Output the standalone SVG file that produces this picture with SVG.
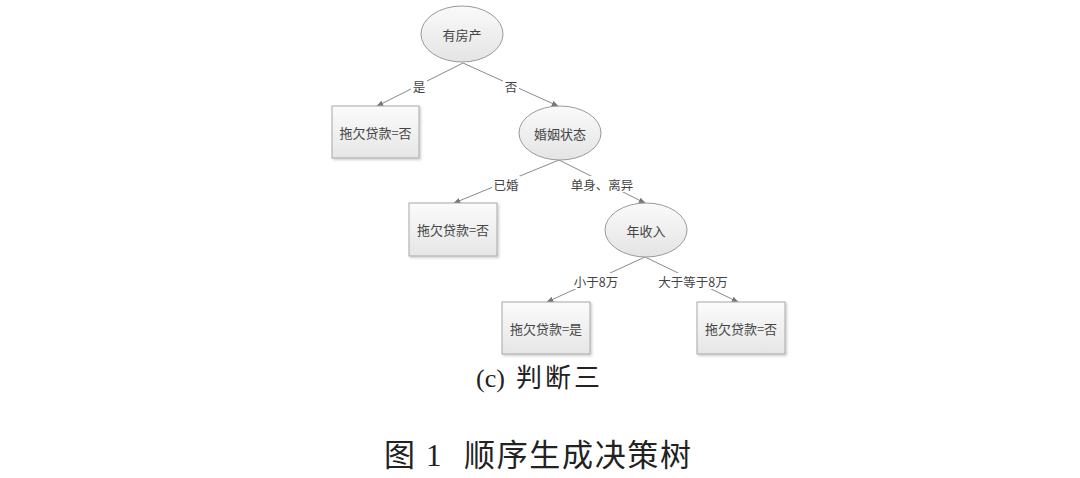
<svg xmlns="http://www.w3.org/2000/svg" width="1080" height="478" viewBox="0 0 1080 478">
<defs>
<linearGradient id="eg" x1="0" y1="0" x2="0" y2="1">
<stop offset="0" stop-color="#fafafa"/><stop offset="1" stop-color="#e4e4e4"/>
</linearGradient>
<linearGradient id="bg" x1="0" y1="0" x2="0" y2="1">
<stop offset="0" stop-color="#fbfbfb"/><stop offset="1" stop-color="#e6e6e6"/>
</linearGradient>
<marker id="ah" viewBox="0 0 10 10" refX="9" refY="5" markerWidth="7" markerHeight="7" orient="auto" markerUnits="userSpaceOnUse">
<path d="M0,1 L10,5 L0,9 Z" fill="#777"/>
</marker>
<filter id="sh" x="-10%" y="-10%" width="125%" height="130%">
<feDropShadow dx="1.5" dy="1.5" stdDeviation="1" flood-color="#000" flood-opacity="0.2"/>
</filter>
</defs>
<style>
.ell{fill:url(#eg);stroke:#9a9a9a;stroke-width:1}
.box{fill:url(#bg);stroke:#a8a8a8;stroke-width:1;filter:url(#sh)}
.t{font-family:"Noto Sans CJK SC","Liberation Sans",sans-serif;font-size:13px;fill:#444;text-anchor:middle;dominant-baseline:central}
.e{stroke:#8a8a8a;stroke-width:1;fill:none;marker-end:url(#ah)}
.lb{font-family:"Noto Sans CJK SC","Liberation Sans",sans-serif;font-size:12.5px;fill:#444;text-anchor:middle;dominant-baseline:central}
.cap{font-family:"Liberation Serif","Noto Sans CJK SC",serif;fill:#222}
</style>
<rect width="1080" height="478" fill="#fff"/>
<g id="connectors">
<line class="e" x1="463" y1="63" x2="377" y2="106"/>
<line class="e" x1="463" y1="63" x2="558" y2="106"/>
<line class="e" x1="559" y1="160" x2="454" y2="203"/>
<line class="e" x1="559" y1="160" x2="645" y2="203"/>
<line class="e" x1="645" y1="257" x2="547" y2="302"/>
<line class="e" x1="645" y1="257" x2="738" y2="302"/>
<rect x="411" y="78" width="16" height="16" fill="#fff"/>
<text class="lb" x="419" y="86">是</text>
<rect x="503" y="78" width="16" height="16" fill="#fff"/>
<text class="lb" x="511" y="86">否</text>
<rect x="492" y="176" width="28" height="16" fill="#fff"/>
<text class="lb" x="506" y="184">已婚</text>
<rect x="571" y="176" width="62" height="16" fill="#fff"/>
<text class="lb" x="602" y="184">单身、离异</text>
<rect x="573" y="273" width="46" height="16" fill="#fff"/>
<text class="lb" x="596" y="281">小于8万</text>
<rect x="658" y="273" width="70" height="16" fill="#fff"/>
<text class="lb" x="693" y="281">大于等于8万</text>
</g>
<g id="n1"><ellipse class="ell" cx="462" cy="34" rx="41" ry="28"/><text class="t" x="462" y="34">有房产</text></g>
<g id="n2"><rect class="box" x="332" y="106" width="87" height="52"/><text class="t" x="375.5" y="132">拖欠贷款=否</text></g>
<g id="n3"><ellipse class="ell" cx="560" cy="133" rx="41" ry="27"/><text class="t" x="560" y="133">婚姻状态</text></g>
<g id="n4"><rect class="box" x="409" y="203" width="88" height="53"/><text class="t" x="453" y="229.5">拖欠贷款=否</text></g>
<g id="n5"><ellipse class="ell" cx="646" cy="230" rx="41" ry="27"/><text class="t" x="646" y="230">年收入</text></g>
<g id="n6"><rect class="box" x="502" y="302" width="88" height="52"/><text class="t" x="546" y="328">拖欠贷款=是</text></g>
<g id="n7"><rect class="box" x="697" y="302" width="88" height="52"/><text class="t" x="741" y="328">拖欠贷款=否</text></g>
<text class="cap" font-size="26" y="387"><tspan x="476">(c)</tspan><tspan x="516" textLength="84" lengthAdjust="spacing">判断三</tspan></text>
<text class="cap" font-size="31" y="466"><tspan x="384">图</tspan><tspan x="426">1</tspan><tspan x="464" textLength="227" lengthAdjust="spacing">顺序生成决策树</tspan></text>
</svg>
